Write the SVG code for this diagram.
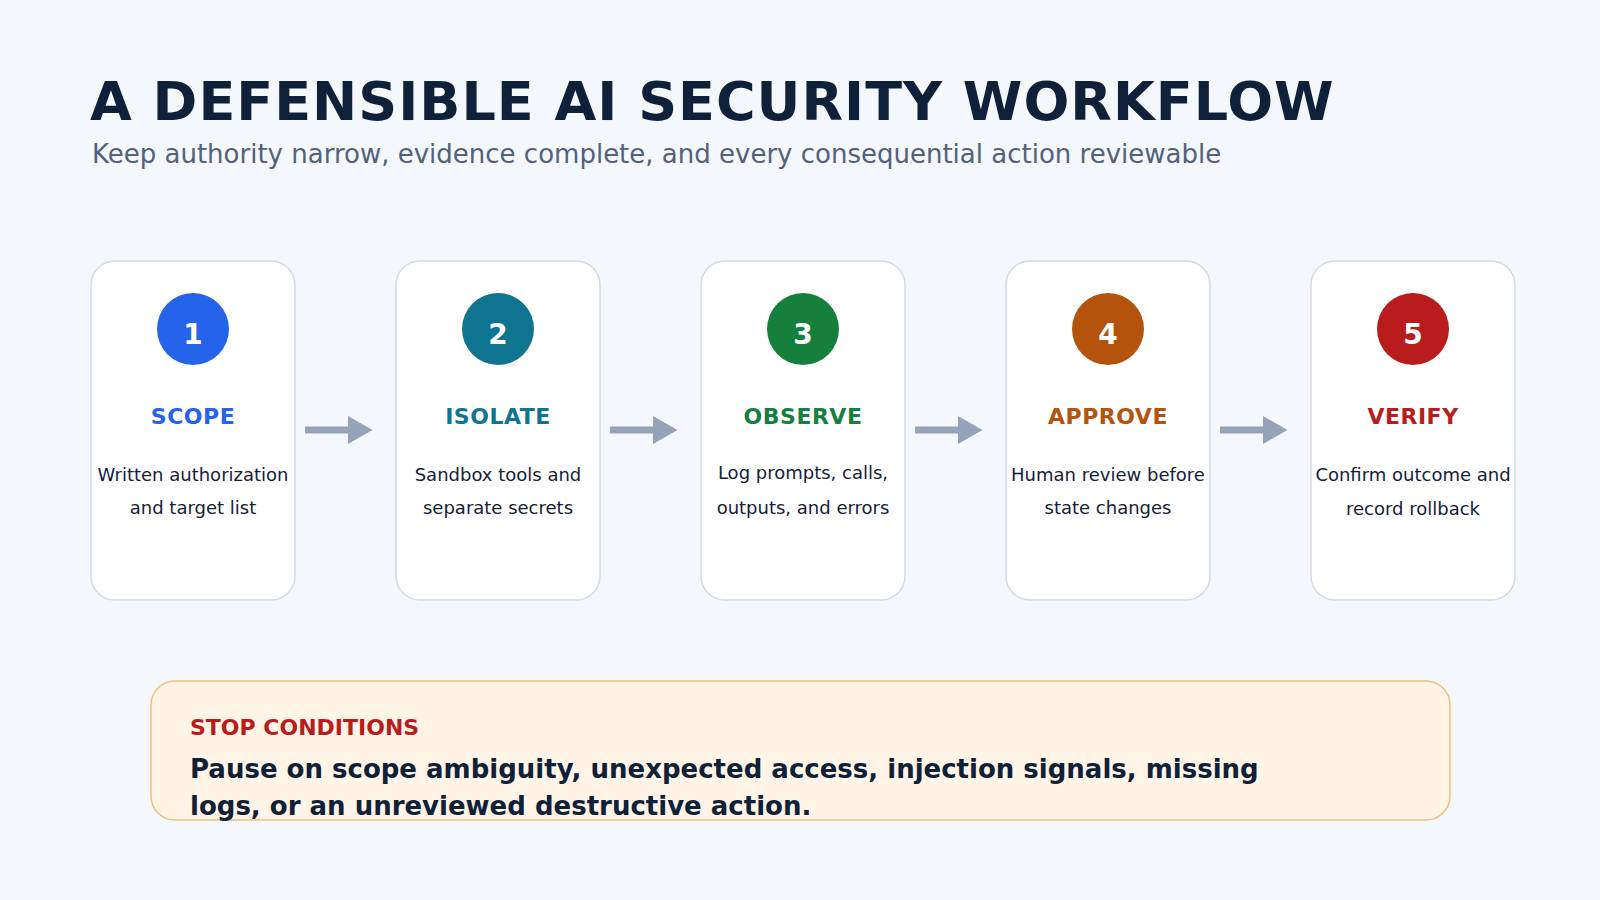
<svg xmlns="http://www.w3.org/2000/svg" width="1600" height="900" viewBox="0 0 1600 900">
<defs>
<style>
text{font-family:"DejaVu Sans",sans-serif}
.card{fill:#fff;stroke:#d3dbe6;stroke-width:1.5}
.num{fill:#fff;font-size:28px;font-weight:bold;text-anchor:middle}
.lab{font-size:22px;font-weight:bold;text-anchor:middle;letter-spacing:0.5px}
.desc{fill:#16213a;font-size:18px;text-anchor:middle}
.arr{stroke:#94a3b8;stroke-width:7}
</style>
<marker id="ah" markerWidth="4" markerHeight="4" refX="2" refY="2" orient="auto" markerUnits="strokeWidth"><path d="M0,0L3.5,2L0,4z" fill="#94a3b8"/></marker>
</defs>
<rect width="1600" height="900" fill="#f4f7fc"/>
<text x="90" y="120" font-size="54" font-weight="bold" fill="#0f2039" letter-spacing="1">A DEFENSIBLE AI SECURITY WORKFLOW</text>
<text x="92" y="163" font-size="26" fill="#52627a">Keep authority narrow, evidence complete, and every consequential action reviewable</text>
<g id="connectors">
<line class="arr" x1="305" y1="430" x2="362" y2="430" marker-end="url(#ah)"/>
<line class="arr" x1="610" y1="430" x2="667" y2="430" marker-end="url(#ah)"/>
<line class="arr" x1="915" y1="430" x2="972" y2="430" marker-end="url(#ah)"/>
<line class="arr" x1="1220" y1="430" x2="1277" y2="430" marker-end="url(#ah)"/>
</g>
<g id="n1"><rect class="card" x="91" y="261" width="204" height="339" rx="24"/><circle cx="193" cy="329" r="36" fill="#2563eb"/><text class="num" x="193" y="344">1</text><text class="lab" x="193" y="424" fill="#2563eb">SCOPE</text><text class="desc" x="193" y="481">Written authorization</text><text class="desc" x="193" y="514">and target list</text></g>
<g id="n2"><rect class="card" x="396" y="261" width="204" height="339" rx="24"/><circle cx="498" cy="329" r="36" fill="#0e7490"/><text class="num" x="498" y="344">2</text><text class="lab" x="498" y="424" fill="#0e7490">ISOLATE</text><text class="desc" x="498" y="481">Sandbox tools and</text><text class="desc" x="498" y="514">separate secrets</text></g>
<g id="n3"><rect class="card" x="701" y="261" width="204" height="339" rx="24"/><circle cx="803" cy="329" r="36" fill="#15803d"/><text class="num" x="803" y="344">3</text><text class="lab" x="803" y="424" fill="#15803d">OBSERVE</text><text class="desc" x="803" y="479">Log prompts, calls,</text><text class="desc" x="803" y="514">outputs, and errors</text></g>
<g id="n4"><rect class="card" x="1006" y="261" width="204" height="339" rx="24"/><circle cx="1108" cy="329" r="36" fill="#b4530b"/><text class="num" x="1108" y="344">4</text><text class="lab" x="1108" y="424" fill="#b4530b">APPROVE</text><text class="desc" x="1108" y="481">Human review before</text><text class="desc" x="1108" y="514">state changes</text></g>
<g id="n5"><rect class="card" x="1311" y="261" width="204" height="339" rx="24"/><circle cx="1413" cy="329" r="36" fill="#b91c1c"/><text class="num" x="1413" y="344">5</text><text class="lab" x="1413" y="424" fill="#b91c1c">VERIFY</text><text class="desc" x="1413" y="481">Confirm outcome and</text><text class="desc" x="1413" y="515">record rollback</text></g>
<g id="stop"><rect x="151" y="681" width="1299" height="139" rx="24" fill="#fff4e6" stroke="#f0c07a" stroke-width="1.5"/>
<text x="190" y="735" font-size="22" font-weight="bold" fill="#b91c1c">STOP CONDITIONS</text>
<text x="190" y="778" font-size="26" font-weight="bold" fill="#0f2039">Pause on scope ambiguity, unexpected access, injection signals, missing</text>
<text x="190" y="815" font-size="26" font-weight="bold" fill="#0f2039">logs, or an unreviewed destructive action.</text></g>
</svg>
